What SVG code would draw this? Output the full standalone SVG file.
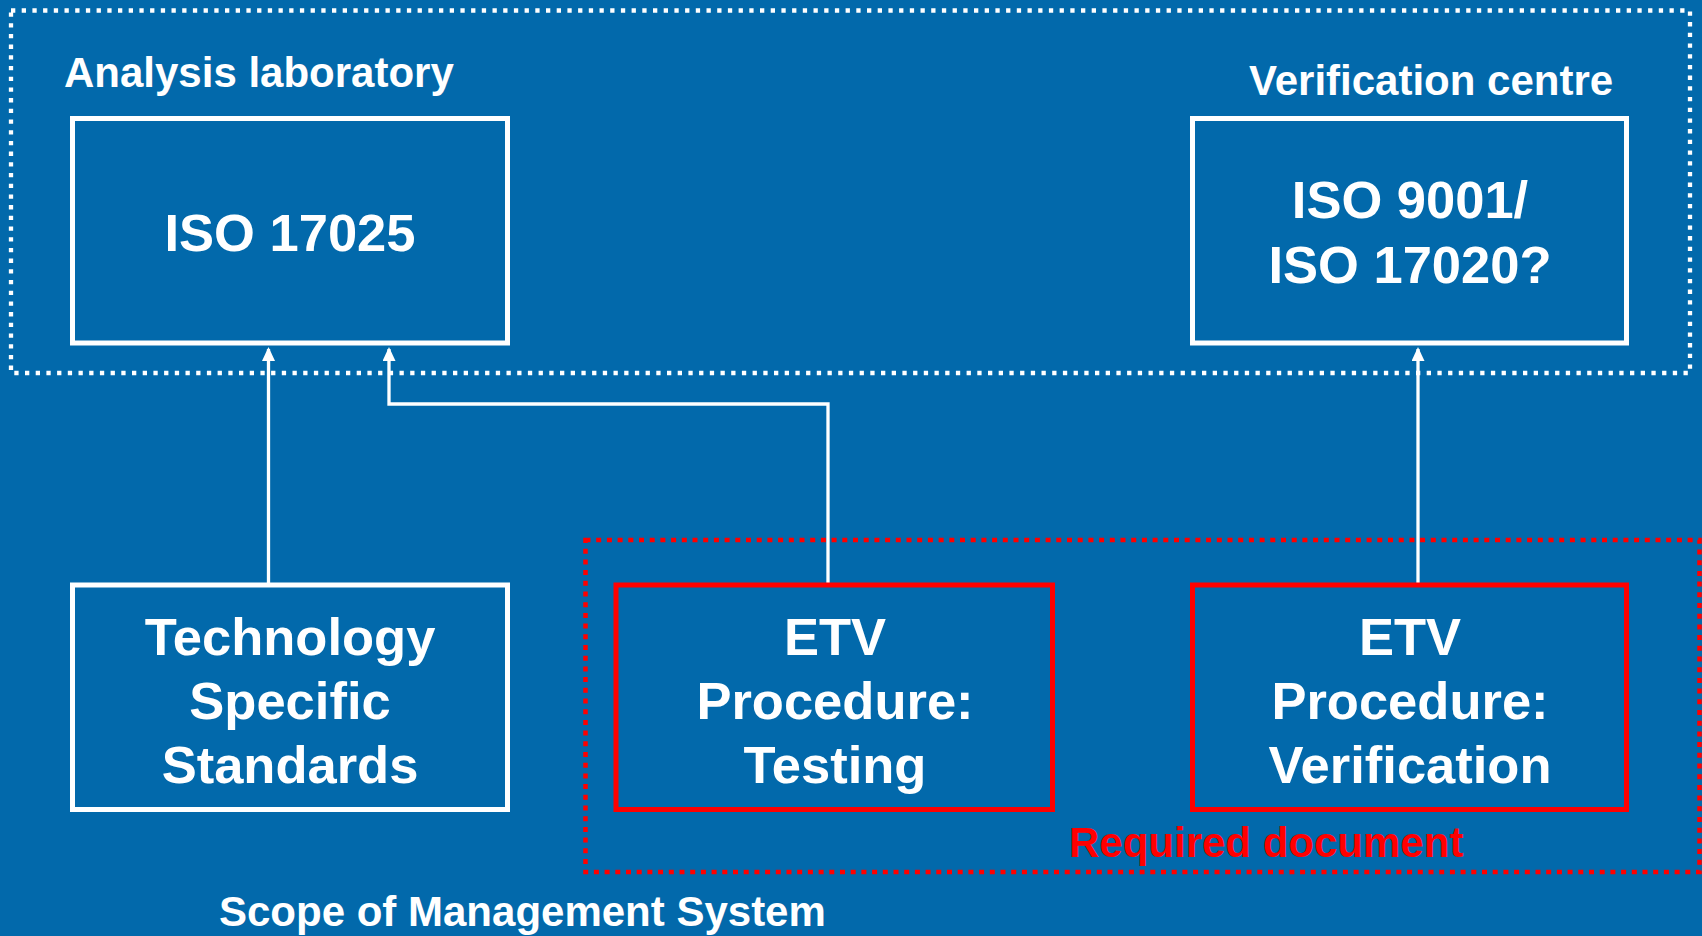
<svg xmlns="http://www.w3.org/2000/svg" width="1702" height="936" viewBox="0 0 1702 936">
<style>
.t{font-family:"Liberation Sans",Arial,sans-serif;font-weight:bold;fill:#fff}
.big{font-size:52.5px;text-anchor:middle}
.lbl{font-size:42px}
.box{fill:none;stroke:#fff;stroke-width:5}
.rbox{fill:none;stroke:#ff0000;stroke-width:5}
.conn{fill:none;stroke:#fff;stroke-width:3.3}
</style>
<defs>
<marker id="ah" markerUnits="userSpaceOnUse" markerWidth="16" markerHeight="16" refX="12" refY="6.5" orient="auto">
<path d="M0,0 L14,6.5 L0,13 z" fill="#fff"/>
</marker>
</defs>
<rect x="0" y="0" width="1702" height="936" fill="#0269AB"/>
<g id="scope-management">
<rect x="11" y="10.5" width="1679" height="362.5" fill="none" stroke="#fff" stroke-width="4.3" stroke-dasharray="4.3 6.4"/>
<text class="t lbl" x="219" y="926">Scope of Management System</text>
</g>
<g id="required-document">
<rect x="585.5" y="540" width="1114" height="332" fill="none" stroke="#ff0000" stroke-width="4.5" stroke-dasharray="5 5.7"/>
<text class="t lbl" x="1069" y="857" style="fill:#ff0000">Required document</text>
</g>
<g id="connectors">
<path class="conn" d="M268.5,585 V349" marker-end="url(#ah)"/>
<path class="conn" d="M828,585 V404 H389 V349" marker-end="url(#ah)"/>
<path class="conn" d="M1418,585 V349" marker-end="url(#ah)"/>
</g>
<g id="analysis-laboratory">
<text class="t lbl" x="64" y="87">Analysis laboratory</text>
<rect class="box" x="72.5" y="118.5" width="435" height="224.5"/>
<text class="t big" x="290" y="251">ISO 17025</text>
</g>
<g id="verification-centre">
<text class="t lbl" x="1249" y="95">Verification centre</text>
<rect class="box" x="1192.5" y="118.5" width="434" height="224.5"/>
<text class="t big" x="1410" y="218">ISO 9001/</text>
<text class="t big" x="1410" y="283">ISO 17020?</text>
</g>
<g id="technology-standards">
<rect class="box" x="72.5" y="585" width="435" height="224.5"/>
<text class="t big" x="290" y="655">Technology</text>
<text class="t big" x="290" y="719">Specific</text>
<text class="t big" x="290" y="783">Standards</text>
</g>
<g id="etv-testing">
<rect class="rbox" x="616" y="585" width="436.5" height="224.5"/>
<text class="t big" x="835" y="655">ETV</text>
<text class="t big" x="835" y="719">Procedure:</text>
<text class="t big" x="835" y="783">Testing</text>
</g>
<g id="etv-verification">
<rect class="rbox" x="1192.5" y="585" width="434" height="224.5"/>
<text class="t big" x="1410" y="655">ETV</text>
<text class="t big" x="1410" y="719">Procedure:</text>
<text class="t big" x="1410" y="783">Verification</text>
</g>
</svg>
